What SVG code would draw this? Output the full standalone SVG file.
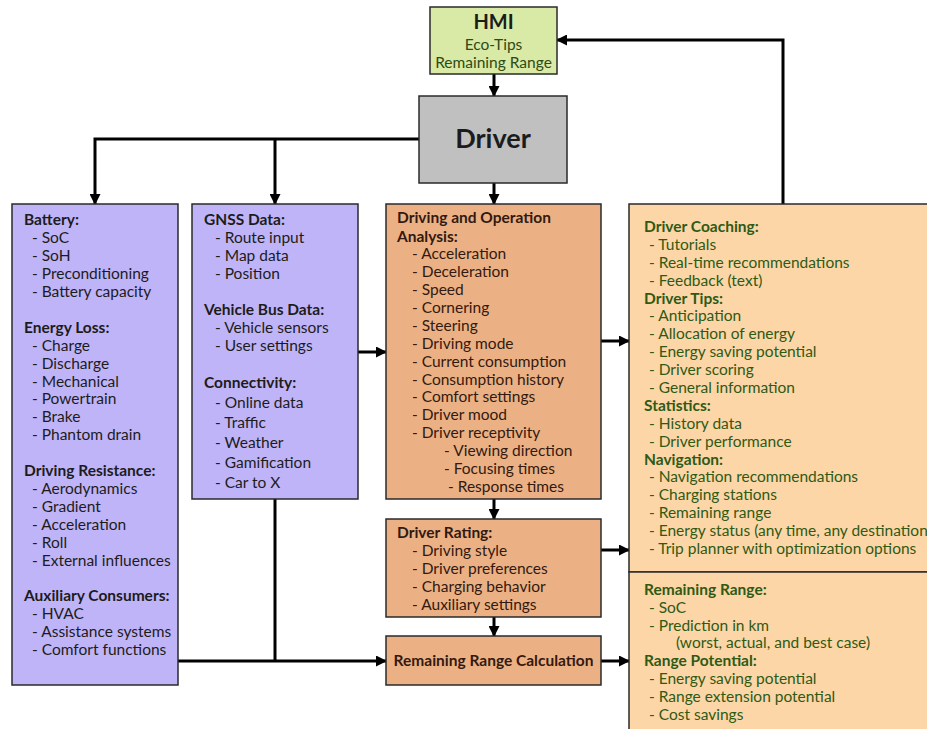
<svg xmlns="http://www.w3.org/2000/svg" width="927" height="729" viewBox="0 0 927 729">
<defs>
<style>
text{font-family:Lato,"Open Sans","Liberation Sans",sans-serif;font-size:15.5px;}
.b{font-weight:bold;}
.box{stroke:#2a2a2a;stroke-width:1.5;}
.lav{fill:#c0b4f8;}
.ora{fill:#ebb185;}
.pea{fill:#fdd6a8;}
.dk{fill:#1c1c1c;}
.br{fill:#33190f;}
.gr{fill:#2f5a14;}
.con{fill:none;stroke:#000;stroke-width:3;}
</style>
<marker id="ah" markerWidth="11" markerHeight="11" refX="10" refY="5.5" orient="auto" markerUnits="userSpaceOnUse">
<path d="M0,0 L11,5.5 L0,11 z" fill="#000"/>
</marker>
</defs>
<rect width="927" height="729" fill="#fff"/>

<g id="connectors">
<path class="con" d="M494 74 V96" marker-end="url(#ah)"/>
<path class="con" d="M494 183 V204" marker-end="url(#ah)"/>
<path class="con" d="M419 139 H95 V204" marker-end="url(#ah)"/>
<path class="con" d="M275 139 V204" marker-end="url(#ah)"/>
<path class="con" d="M783 204 V40 H557" marker-end="url(#ah)"/>
<path class="con" d="M358 352 H386" marker-end="url(#ah)"/>
<path class="con" d="M601 341 H629" marker-end="url(#ah)"/>
<path class="con" d="M494 499 V519" marker-end="url(#ah)"/>
<path class="con" d="M601 550 H629" marker-end="url(#ah)"/>
<path class="con" d="M494 617 V636" marker-end="url(#ah)"/>
<path class="con" d="M178 661 H386" marker-end="url(#ah)"/>
<path class="con" d="M275 499 V661"/>
<path class="con" d="M601 661 H629" marker-end="url(#ah)"/>
</g>

<g id="hmi">
<rect class="box" x="430" y="7" width="127" height="67" fill="#d9e9a6"/>
<text x="493.5" y="29" text-anchor="middle" class="b dk" style="font-size:20px">HMI</text>
<text x="493.5" y="50" text-anchor="middle" fill="#2f4a14">Eco-Tips</text>
<text x="493.5" y="68" text-anchor="middle" fill="#2f4a14">Remaining Range</text>
</g>

<g id="driver">
<rect class="box" x="419" y="96" width="148" height="87" fill="#c0c0c0"/>
<text x="493" y="148" text-anchor="middle" class="b dk" style="font-size:27px">Driver</text>
</g>

<g id="vehicle-data">
<rect class="box lav" x="12" y="204" width="166" height="481"/>
<g class="dk">
<text x="24" y="225" class="b">Battery:</text>
<text x="32" y="243">- SoC</text>
<text x="32" y="261">- SoH</text>
<text x="32" y="279">- Preconditioning</text>
<text x="32" y="297">- Battery capacity</text>
<text x="24" y="333" class="b">Energy Loss:</text>
<text x="32" y="351">- Charge</text>
<text x="32" y="369">- Discharge</text>
<text x="32" y="387">- Mechanical</text>
<text x="32" y="404">- Powertrain</text>
<text x="32" y="422">- Brake</text>
<text x="32" y="440">- Phantom drain</text>
<text x="24" y="476" class="b">Driving Resistance:</text>
<text x="32" y="494">- Aerodynamics</text>
<text x="32" y="512">- Gradient</text>
<text x="32" y="530">- Acceleration</text>
<text x="32" y="548">- Roll</text>
<text x="32" y="566">- External influences</text>
<text x="24" y="601" class="b">Auxiliary Consumers:</text>
<text x="32" y="619">- HVAC</text>
<text x="32" y="637">- Assistance systems</text>
<text x="32" y="655">- Comfort functions</text>
</g>
</g>

<g id="external-data">
<rect class="box lav" x="192" y="204" width="166" height="295"/>
<g class="dk">
<text x="204" y="225" class="b">GNSS Data:</text>
<text x="215" y="243">- Route input</text>
<text x="215" y="261">- Map data</text>
<text x="215" y="279">- Position</text>
<text x="204" y="315" class="b">Vehicle Bus Data:</text>
<text x="215" y="333">- Vehicle sensors</text>
<text x="215" y="351">- User settings</text>
<text x="204" y="388" class="b">Connectivity:</text>
<text x="215" y="408">- Online data</text>
<text x="215" y="428">- Traffic</text>
<text x="215" y="448">- Weather</text>
<text x="215" y="468">- Gamification</text>
<text x="215" y="488">- Car to X</text>
</g>
</g>

<g id="analysis">
<rect class="box ora" x="386" y="204" width="215" height="295"/>
<g class="br">
<text x="397" y="223" class="b">Driving and Operation</text>
<text x="397" y="242" class="b">Analysis:</text>
<text x="412" y="259">- Acceleration</text>
<text x="412" y="277">- Deceleration</text>
<text x="412" y="295">- Speed</text>
<text x="412" y="313">- Cornering</text>
<text x="412" y="331">- Steering</text>
<text x="412" y="349">- Driving mode</text>
<text x="412" y="367">- Current consumption</text>
<text x="412" y="385">- Consumption history</text>
<text x="412" y="402">- Comfort settings</text>
<text x="412" y="420">- Driver mood</text>
<text x="412" y="438">- Driver receptivity</text>
<text x="444" y="456">- Viewing direction</text>
<text x="444" y="474">- Focusing times</text>
<text x="448" y="492">- Response times</text>
</g>
</g>

<g id="driver-rating">
<rect class="box ora" x="386" y="519" width="215" height="98"/>
<g class="br">
<text x="397" y="538" class="b">Driver Rating:</text>
<text x="412" y="556">- Driving style</text>
<text x="412" y="574">- Driver preferences</text>
<text x="412" y="592">- Charging behavior</text>
<text x="412" y="610">- Auxiliary settings</text>
</g>
</g>

<g id="range-calculation">
<rect class="box ora" x="386" y="636" width="215" height="49"/>
<text x="493.5" y="666" text-anchor="middle" class="b br">Remaining Range Calculation</text>
</g>

<g id="hmi-output">
<rect class="box pea" x="629" y="204" width="320" height="368"/>
<g class="gr">
<text x="644" y="232" class="b">Driver Coaching:</text>
<text x="649" y="250">- Tutorials</text>
<text x="649" y="268">- Real-time recommendations</text>
<text x="649" y="286">- Feedback (text)</text>
<text x="644" y="304" class="b">Driver Tips:</text>
<text x="649" y="321">- Anticipation</text>
<text x="649" y="339">- Allocation of energy</text>
<text x="649" y="357">- Energy saving potential</text>
<text x="649" y="375">- Driver scoring</text>
<text x="649" y="393">- General information</text>
<text x="644" y="411" class="b">Statistics:</text>
<text x="649" y="429">- History data</text>
<text x="649" y="447">- Driver performance</text>
<text x="644" y="465" class="b">Navigation:</text>
<text x="649" y="482">- Navigation recommendations</text>
<text x="649" y="500">- Charging stations</text>
<text x="649" y="518">- Remaining range</text>
<text x="649" y="536">- Energy status (any time, any destination)</text>
<text x="649" y="554">- Trip planner with optimization options</text>
</g>
</g>

<g id="range-output">
<rect class="box pea" x="629" y="572" width="320" height="170"/>
<g class="gr">
<text x="644" y="595" class="b">Remaining Range:</text>
<text x="649" y="613">- SoC</text>
<text x="649" y="631">- Prediction in km</text>
<text x="676" y="648">(worst, actual, and best case)</text>
<text x="644" y="666" class="b">Range Potential:</text>
<text x="649" y="684">- Energy saving potential</text>
<text x="649" y="702">- Range extension potential</text>
<text x="649" y="720">- Cost savings</text>
</g>
</g>
</svg>
